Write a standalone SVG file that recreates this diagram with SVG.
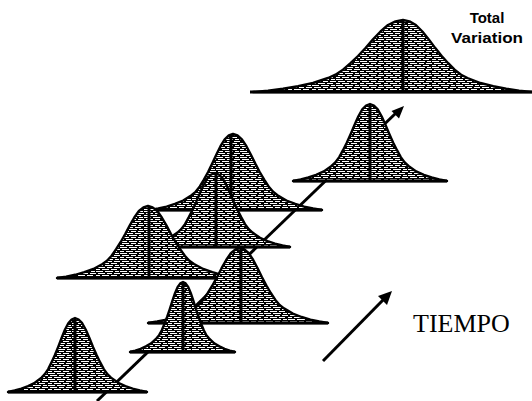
<svg xmlns="http://www.w3.org/2000/svg" width="532" height="401" viewBox="0 0 532 401">
<defs>
<pattern id="tex" patternUnits="userSpaceOnUse" width="24" height="6">
<rect width="24" height="6" fill="#000"/>
<rect x="0" y="1" width="7" height="1" fill="#fff"/>
<rect x="9" y="1" width="8" height="1" fill="#fff"/>
<rect x="19" y="1" width="4" height="1" fill="#fff"/>
<rect x="2" y="3" width="7" height="1" fill="#fff"/>
<rect x="11" y="3" width="5" height="1" fill="#fff"/>
<rect x="18" y="3" width="6" height="1" fill="#fff"/>
<rect x="0" y="5" width="4" height="1" fill="#fff"/>
<rect x="6" y="5" width="7" height="1" fill="#fff"/>
<rect x="15" y="5" width="6" height="1" fill="#fff"/>
</pattern>
</defs>
<style>
.bell{fill:url(#tex);stroke:#000;stroke-width:2.4;stroke-linejoin:round}
.base{stroke:#000;stroke-width:3;fill:none}
.mid{stroke:#000;stroke-width:3}
.ax{stroke:#000;stroke-width:3;fill:none}
.head{fill:#000}
.lbl{font-family:"Liberation Sans",Arial,sans-serif;font-weight:bold;font-size:15px;fill:#000;text-anchor:middle}
.tiempo{font-family:"Liberation Serif","Times New Roman",serif;font-size:26px;fill:#000}
</style>
<rect width="532" height="401" fill="#fff"/>
<g id="connectors">
<line class="ax" x1="97" y1="401" x2="396" y2="113"/>
<polygon class="head" points="404,106 399,118.5 391.5,111"/>
<line class="ax" x1="323" y1="361" x2="383" y2="300"/>
<polygon class="head" points="392,291 387,305 378,296"/>
</g>
<g id="total">
<polygon class="bell" points="253,92 268,90.6 283,88.8 298,86.2 313,83 328,78 335.5,74.7 343,69.7 350.5,63.2 358,56 365.5,48.1 373,39.4 380.5,31.5 388,25 395.5,21.4 403,20 409.5,21.4 415.9,25 422.4,31.5 428.8,39.4 435.3,48.1 441.7,56 448.2,63.2 454.6,69.7 461.1,74.7 467.5,78 480.4,83 493.3,86.2 506.2,88.8 519.1,90.6 532,92"/>
<line class="mid" x1="403" y1="21" x2="403" y2="92"/>
<line class="base" x1="250" y1="92" x2="532" y2="92"/>
<text class="lbl" x="487" y="23">Total</text>
<text class="lbl" x="487" y="43" textLength="72" lengthAdjust="spacingAndGlyphs">Variation</text>
</g>
<g id="c2">
<polygon class="bell" points="293,181 300.7,179.5 308.4,177.5 316.1,174.8 323.8,171.4 331.5,166 335.3,162.5 339.2,157.1 343,150.2 346.9,142.5 350.7,134 354.6,124.8 358.4,116.3 362.3,109.4 366.1,105.5 370,104 373.9,105.5 377.7,109.4 381.6,116.3 385.4,124.8 389.3,134 393.1,142.5 397,150.2 400.8,157.1 404.7,162.5 408.5,166 416.2,171.4 423.9,174.8 431.6,177.5 439.3,179.5 447,181"/>
<line class="mid" x1="370" y1="105" x2="370" y2="181"/>
<line class="base" x1="293" y1="181" x2="447" y2="181"/>
</g>
<g id="c3">
<polygon class="bell" points="150,210 158.3,208.5 166.6,206.6 174.9,203.9 183.2,200.5 191.5,195.2 195.6,191.8 199.8,186.4 203.9,179.6 208.1,172 212.2,163.6 216.4,154.5 220.5,146.2 224.7,139.3 228.8,135.5 233,134 237.5,135.5 241.9,139.3 246.4,146.2 250.8,154.5 255.3,163.6 259.7,172 264.2,179.6 268.6,186.4 273.1,191.8 277.5,195.2 286.4,200.5 295.3,203.9 304.2,206.6 313.1,208.5 322,210"/>
<line class="mid" x1="231" y1="135" x2="231" y2="210"/>
<line class="base" x1="150" y1="210" x2="322" y2="210"/>
</g>
<g id="c5">
<polygon class="bell" points="140,247 147.5,245.5 155,243.7 162.5,241.1 170,237.8 177.5,232.6 181.2,229.2 185,224.1 188.7,217.4 192.5,210 196.2,201.9 200,193 203.7,184.8 207.5,178.2 211.2,174.5 215,173 218.8,174.5 222.5,178.2 226.3,184.8 230,193 233.8,201.9 237.5,210 241.3,217.4 245,224.1 248.8,229.2 252.5,232.6 260,237.8 267.5,241.1 275,243.7 282.5,245.5 290,247"/>
<line class="mid" x1="216" y1="174" x2="216" y2="247"/>
<line class="base" x1="140" y1="247" x2="290" y2="247"/>
</g>
<g id="c4">
<polygon class="bell" points="57,278 66.1,276.6 75.2,274.8 84.3,272.2 93.4,269 102.5,264 107,260.7 111.6,255.7 116.1,249.2 120.7,242 125.2,234.1 129.8,225.4 134.3,217.5 138.9,211 143.4,207.4 148,206 152.6,207.4 157.2,211 161.8,217.5 166.4,225.4 171,234.1 175.6,242 180.2,249.2 184.8,255.7 189.4,260.7 194,264 203.2,269 212.4,272.2 221.6,274.8 230.8,276.6 240,278"/>
<line class="mid" x1="149" y1="207" x2="149" y2="278"/>
<line class="base" x1="57" y1="278" x2="240" y2="278"/>
</g>
<g id="c6">
<polygon class="bell" points="148,323 157.2,321.5 166.4,319.6 175.6,317 184.8,313.6 194,308.4 198.6,305 203.2,299.7 207.8,293 212.4,285.5 217,277.2 221.6,268.2 226.2,260 230.8,253.2 235.4,249.5 240,248 244.4,249.5 248.8,253.2 253.2,260 257.6,268.2 262,277.2 266.4,285.5 270.8,293 275.2,299.7 279.6,305 284,308.4 292.8,313.6 301.6,317 310.4,319.6 319.2,321.5 328,323"/>
<line class="mid" x1="241" y1="249" x2="241" y2="323"/>
<line class="base" x1="148" y1="323" x2="328" y2="323"/>
</g>
<g id="c7">
<polygon class="bell" points="130,352 135.3,350.6 140.6,348.9 145.9,346.4 151.2,343.3 156.5,338.3 159.1,335.2 161.8,330.3 164.4,324 167.1,317 169.7,309.3 172.4,300.9 175,293.2 177.7,286.9 180.3,283.4 183,282 185.6,283.4 188.2,286.9 190.8,293.2 193.4,300.9 196,309.3 198.6,317 201.2,324 203.8,330.3 206.4,335.2 209,338.3 214.2,343.3 219.4,346.4 224.6,348.9 229.8,350.6 235,352"/>
<line class="mid" x1="183" y1="283" x2="183" y2="352"/>
<line class="base" x1="130" y1="352" x2="235" y2="352"/>
</g>
<g id="c8">
<polygon class="bell" points="8,392 14.7,390.5 21.4,388.7 28.1,386.1 34.8,382.8 41.5,377.6 44.8,374.2 48.2,369.1 51.5,362.4 54.9,355 58.2,346.9 61.6,338 64.9,329.8 68.3,323.2 71.6,319.5 75,318 78.6,319.5 82.2,323.2 85.8,329.8 89.4,338 93,346.9 96.6,355 100.2,362.4 103.8,369.1 107.4,374.2 111,377.6 118.2,382.8 125.4,386.1 132.6,388.7 139.8,390.5 147,392"/>
<line class="mid" x1="75" y1="319" x2="75" y2="392"/>
<line class="base" x1="8" y1="392" x2="147" y2="392"/>
</g>
<g id="label">
<text class="tiempo" x="413" y="332">TIEMPO</text>
</g>
</svg>
